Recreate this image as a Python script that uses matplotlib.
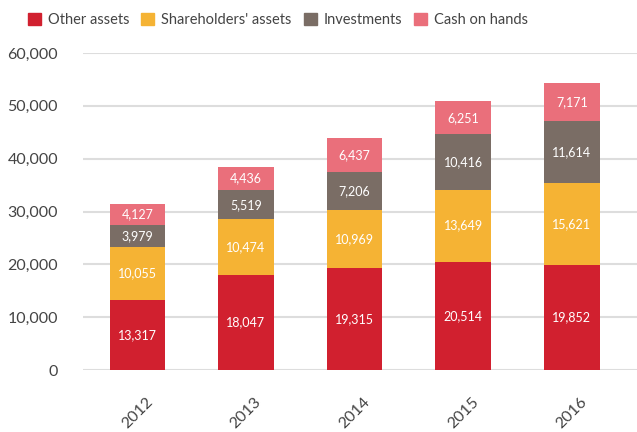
import numpy as np
import matplotlib.pyplot as plt
from matplotlib.patches import Patch

plt.rcParams['font.family'] = ['Lato', 'DejaVu Sans']

# === Données ===
years = ["2012", "2013", "2014", "2015", "2016"]
other_assets = [13317, 18047, 19315, 20514, 19852]
shareholders_assets = [10055, 10474, 10969, 13649, 15621]
investments = [3979, 5519, 7206, 10416, 11614]
cash_on_hands = [4127, 4436, 6437, 6251, 7171]

series = [
    ("Other assets", other_assets, "#D1202F"),
    ("Shareholders' assets", shareholders_assets, "#F5B334"),
    ("Investments", investments, "#7A6D65"),
    ("Cash on hands", cash_on_hands, "#EA6F7B"),
]

fig = plt.figure(figsize=(6.37, 4.32), dpi=100)
ax = fig.add_axes([83 / 637, 62 / 432, 554 / 637, 317 / 432])

x = np.arange(len(years))
bottom = np.zeros(len(years))
for label, vals, col in series:
    vals = np.array(vals)
    ax.bar(x, vals, width=0.51, bottom=bottom, color=col, label=label, zorder=3)
    for xi, b, v in zip(x, bottom, vals):
        ax.text(xi, b + v / 2, f"{v:,}", ha="center", va="center",
                color="white", fontsize=9, zorder=4)
    bottom += vals

ax.set_xlim(-0.5, 4.6)
ax.set_ylim(0, 60000)
ax.set_yticks(range(0, 60001, 10000))
ax.set_yticklabels([f"{v:,}" for v in range(0, 60001, 10000)], fontsize=11.5, color="#444444")
ax.set_xticks(x)
ax.set_xticklabels(years, rotation=45, fontsize=11.5, color="#444444",
                   ha="center", va="top")
ax.tick_params(axis="both", length=0)
ax.tick_params(axis="y", pad=18)
ax.tick_params(axis="x", pad=18)
ax.grid(axis="y", color="#DDDDDD", linewidth=1.5, zorder=0)
ax.set_axisbelow(True)
for s in ax.spines.values():
    s.set_visible(False)

handles = [Patch(color=col, label=label) for label, _, col in series]
fig.legend(handles=handles, loc="center left", bbox_to_anchor=(0.044, 0.953),
           ncol=4, frameon=False, fontsize=10.5, handlelength=0.89, handleheight=0.89,
           handletextpad=0.48, columnspacing=0.82, labelcolor="#444444", borderaxespad=0,
           borderpad=0)

fig.savefig("out.png", dpi=100)
